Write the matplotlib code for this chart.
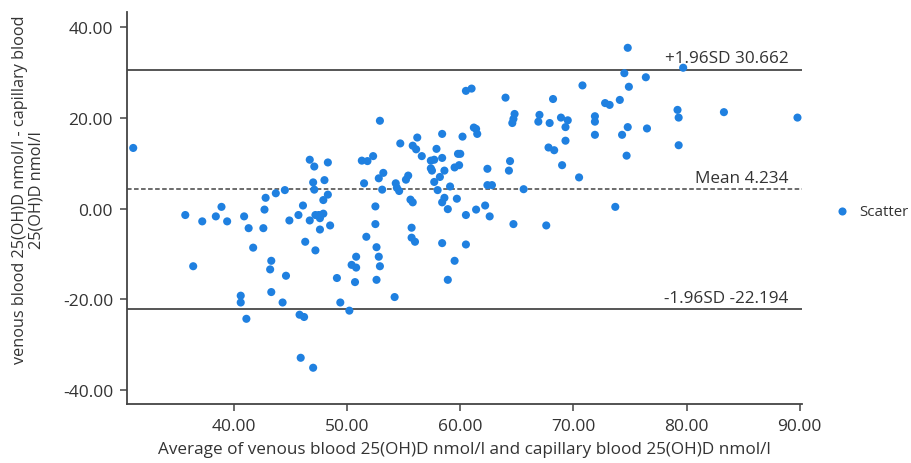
import matplotlib
matplotlib.use("Agg")
import matplotlib.pyplot as plt

plt.rcParams['font.family'] = ['Open Sans', 'DejaVu Sans']

# Average of venous and capillary 25(OH)D (nmol/l)
avg = [31.1, 46.7, 47.1, 48.3, 47.0, 48.0, 47.1, 47.9, 48.3, 44.5,
       43.7, 42.8, 42.7, 46.1, 45.7, 44.9, 46.7, 47.2, 47.5, 47.9,
       47.6, 48.5, 35.7, 37.2, 38.4, 38.9, 39.4, 40.9, 41.3, 42.6,
       47.6, 36.4, 41.7, 43.3, 43.2, 43.3, 44.6, 46.3, 47.2, 49.1,
       50.4, 50.8, 50.8, 50.7, 40.6, 40.6, 41.1, 44.3, 45.8, 46.2,
       49.4, 50.2, 45.9, 47.0, 52.9, 60.5, 61.0, 64.0, 68.2, 70.8,
       54.7, 56.2, 58.4, 60.2, 61.2, 61.4, 61.5, 64.8, 64.7, 64.6,
       67.0, 66.9, 67.9, 68.9, 69.5, 69.3, 69.3, 67.8, 68.3, 69.0,
       70.5, 55.8, 56.1, 56.6, 57.9, 58.4, 57.4, 57.7, 57.4, 57.5,
       58.2, 58.6, 57.7, 58.0, 59.8, 60.0, 59.5, 59.9, 59.1, 59.7,
       62.4, 64.4, 64.3, 62.4, 62.8, 65.6, 51.3, 51.8, 52.3, 53.2,
       52.8, 51.5, 53.1, 54.3, 54.4, 54.6, 55.2, 55.4, 55.6, 55.8,
       52.5, 52.5, 55.7, 58.4, 58.6, 58.9, 60.5, 61.4, 62.2, 62.6,
       64.7, 67.6, 51.7, 52.6, 52.8, 52.9, 52.6, 54.2, 55.7, 56.0,
       58.4, 60.5, 59.5, 58.9, 74.8, 74.5, 76.4, 74.9, 79.7, 72.8,
       73.2, 74.1, 79.2, 79.3, 83.3, 89.8, 71.9, 71.9, 71.9, 74.8,
       74.3, 76.5, 79.3, 74.7, 73.7]

# Difference venous - capillary (nmol/l)
diff = [13.4, 10.8, 9.3, 10.2, 5.8, 6.3, 4.2, 1.9, 3.1, 4.1,
        3.4, 2.4, -0.2, 0.7, -1.4, -2.6, -2.6, -1.4, -1.4, -1.1,
        -2.1, -3.7, -1.4, -2.8, -1.7, 0.4, -2.8, -1.7, -4.3, -4.3,
        -4.6, -12.7, -8.6, -11.5, -13.4, -18.4, -14.8, -7.3, -9.2, -15.3,
        -12.4, -13.0, -10.6, -16.2, -19.2, -20.7, -24.3, -20.7, -23.4, -23.9,
        -20.7, -22.5, -32.9, -35.1, 19.4, 26.0, 26.5, 24.5, 24.2, 27.2,
        14.4, 15.7, 16.5, 15.9, 17.9, 17.6, 16.5, 20.9, 19.8, 18.9,
        20.7, 19.2, 18.9, 20.1, 19.5, 18.0, 15.0, 13.5, 12.9, 9.6,
        6.9, 13.9, 13.1, 11.6, 13.2, 11.2, 10.6, 10.8, 8.9, 8.4,
        7.0, 8.4, 5.9, 4.1, 12.1, 12.1, 9.1, 9.6, 4.9, 2.2,
        8.8, 10.5, 8.4, 5.2, 5.2, 4.3, 10.6, 10.5, 11.6, 7.9,
        6.7, 5.6, 4.2, 5.6, 4.6, 3.9, 6.4, 7.3, 2.0, 1.4,
        0.5, -3.4, -4.2, 1.4, 2.4, -0.1, -1.4, -0.2, 0.7, -1.7,
        -3.4, -3.7, -6.2, -8.5, -10.6, -12.7, -15.7, -19.5, -6.4, -7.3,
        -7.6, -7.9, -11.5, -15.7, 35.5, 29.9, 29.0, 26.9, 31.1, 23.3,
        22.9, 24.0, 21.8, 20.1, 21.3, 20.1, 20.4, 19.2, 16.3, 18.0,
        16.3, 17.7, 14.0, 11.7, 0.4]

mean_diff = 4.234
upper_loa = 30.662
lower_loa = -22.194

x_ticks = [40, 50, 60, 70, 80, 90]
y_ticks = [-40, -20, 0, 20, 40]

fig = plt.figure(figsize=(9.12, 4.64), dpi=100)
ax = fig.add_axes([127/912, 1 - 405/464, (802 - 127)/912, (405 - 13)/464])

ax.scatter(avg, diff, s=34, color='#1f80e0', edgecolors='none', label='Scatter', zorder=3)

line_col = '#555555'
ax.axhline(upper_loa, color=line_col, lw=1.4, zorder=2)
ax.axhline(lower_loa, color=line_col, lw=1.4, zorder=2)
ax.axhline(mean_diff, color='#444444', lw=1.1, ls=(0, (3, 1.6)), zorder=2)

txt_col = '#333333'
fs = 12.3
ax.text(89.0, upper_loa + 2.5, f'+1.96SD {upper_loa:.3f}', ha='right', va='center',
        fontsize=fs, color=txt_col)
ax.text(89.0, mean_diff + 2.5, f'Mean {mean_diff:.3f}', ha='right', va='center',
        fontsize=fs, color=txt_col)
ax.text(89.0, lower_loa + 2.5, f'-1.96SD {lower_loa:.3f}', ha='right', va='center',
        fontsize=fs, color=txt_col)

ax.set_xlim(30.55, 90.2)
ax.set_ylim(-43.1, 43.4)
ax.set_xticks(x_ticks)
ax.set_yticks(y_ticks)
ax.set_xticklabels([f'{v:.2f}' for v in x_ticks])
ax.set_yticklabels([f'{v:.2f}' for v in y_ticks])

for side in ['top', 'right']:
    ax.spines[side].set_visible(False)
for side in ['left', 'bottom']:
    ax.spines[side].set_color('#444444')
    ax.spines[side].set_linewidth(1.3)
ax.tick_params(axis='both', colors='#444444', labelcolor=txt_col, labelsize=12.5,
               length=5, width=1.1, direction='out', pad=5)

ax.set_xlabel('Average of venous blood 25(OH)D nmol/l and capillary blood 25(OH)D nmol/l',
              fontsize=12.3, color=txt_col, labelpad=5)
fig.text(0.031, 1 - 190/464,
         'venous blood 25(OH)D nmol/l - capillary blood\n25(OH)D nmol/l',
         rotation=90, ha='center', va='center', multialignment='center',
         fontsize=11.7, color=txt_col, linespacing=1.1)

leg = ax.legend(loc='center left', bbox_to_anchor=(1.05, 0.49), frameon=False,
                fontsize=10.8, handlelength=0.9, handletextpad=0.7, borderpad=0,
                borderaxespad=0, markerscale=1.0)
for t in leg.get_texts():
    t.set_color(txt_col)

fig.savefig('out.png', dpi=100)
